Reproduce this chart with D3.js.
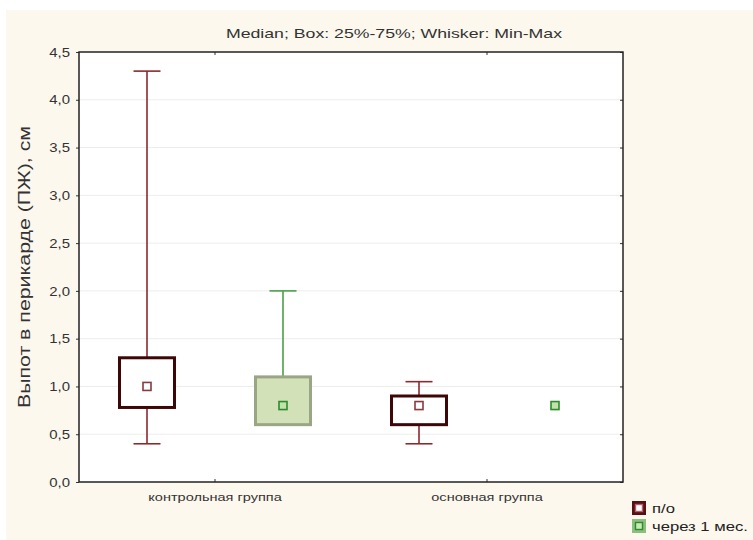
<!DOCTYPE html>
<html>
<head>
<meta charset="utf-8">
<script src="https://cdn.jsdelivr.net/npm/d3@7"></script>
<style>
  html, body { margin: 0; padding: 0; background: #ffffff; }
  svg { display: block; font-family: "Liberation Sans", Arial, sans-serif; }
</style>
</head>
<body>
<svg id="chart" width="753" height="540"></svg>
<script>
// Groups along the x axis
const categories = ["контрольная группа", "основная группа"];
// Series (time points)
const seriesNames = ["п/о", "через 1 мес."];
// Box statistics per series, in category order
const mins    = [[0.40, 0.40], [0.60, 0.80]];
const q1s     = [[0.78, 0.60], [0.60, 0.80]];
const medians = [[1.00, 0.80], [0.80, 0.80]];
const q3s     = [[1.30, 0.90], [1.10, 0.80]];
const maxs    = [[4.30, 1.05], [2.00, 0.80]];
const yTicks  = [0, 0.5, 1, 1.5, 2, 2.5, 3, 3.5, 4, 4.5];

const titleText = "Median; Box: 25%-75%; Whisker: Min-Max";
const yTitle = "Выпот в перикарде (ПЖ), см";

const styles = [
  { boxStroke: "#3e0707", boxFill: "#ffffff", whisker: "#8a2a2e",
    medStroke: "#8a3a3e", medFill: "#ffffff",
    legOuter: "#5a0f12", legInner: "#ffffff", legInnerStroke: "#b0606a" },
  { boxStroke: "#9aa585", boxFill: "#d3e1b8", whisker: "#4a9f4a",
    medStroke: "#2f8a2f", medFill: "#bfe3a8",
    legOuter: "#8cbf7e", legInner: "#c8eab4", legInnerStroke: "#2f8a2f" }
];

// Text in this chart uses a wide, horizontally stretched face
const STRETCH = 1.32;
function widen(sel, factor) {
  sel.each(function () {
    const len = this.getComputedTextLength();
    d3.select(this).attr("textLength", len * (factor || STRETCH)).attr("lengthAdjust", "spacingAndGlyphs");
  });
}

const svg = d3.select("#chart");
const W = 753, H = 540;
const margin = { left: 79, right: 130, top: 52, bottom: 58 };

// Panel background
svg.append("rect").attr("x", 6).attr("y", 10).attr("width", W - 6).attr("height", H - 10)
  .attr("fill", "#fdf8ee");

const x = d3.scaleBand().domain(categories).range([margin.left, W - margin.right]);
const y = d3.scaleLinear().domain([0, 4.5]).range([H - margin.bottom, margin.top]);
const offset = d3.scaleBand().domain(seriesNames).range([-x.bandwidth() / 2, x.bandwidth() / 2]);

// Plot area
svg.append("rect").attr("x", margin.left).attr("y", margin.top)
  .attr("width", W - margin.right - margin.left).attr("height", H - margin.bottom - margin.top)
  .attr("fill", "#ffffff");

// Gridlines
svg.append("g").selectAll("line").data(yTicks.filter(t => t > 0 && t < 4.5)).join("line")
  .attr("x1", margin.left).attr("x2", W - margin.right)
  .attr("y1", d => y(d)).attr("y2", d => y(d))
  .attr("stroke", "#ececec").attr("stroke-width", 1);

// Y axis (left) with outward ticks
const yAxis = svg.append("g").attr("transform", `translate(${margin.left},0)`)
  .call(d3.axisLeft(y).tickValues(yTicks).tickSize(3).tickPadding(6)
    .tickFormat(d => d3.format(".1f")(d).replace(".", ",")));
yAxis.select(".domain").remove();
yAxis.selectAll("line").attr("stroke", "#333");
yAxis.selectAll("text").attr("font-size", 13).attr("fill", "#333").call(widen, 1.15);

// Right axis with inward ticks
const yAxisR = svg.append("g").attr("transform", `translate(${W - margin.right},0)`)
  .call(d3.axisRight(y).tickValues(yTicks).tickSize(-3).tickFormat(""));
yAxisR.select(".domain").remove();
yAxisR.selectAll("line").attr("stroke", "#333");

// X axis (bottom) with inward ticks and labels
const xAxis = svg.append("g").attr("transform", `translate(0,${H - margin.bottom})`)
  .call(d3.axisBottom(x).tickSize(-3).tickPadding(11));
xAxis.select(".domain").remove();
xAxis.selectAll("line").attr("stroke", "#333");
xAxis.selectAll("text").attr("font-size", 11).attr("fill", "#333").call(widen);

// Top axis ticks
const xAxisT = svg.append("g").attr("transform", `translate(0,${margin.top})`)
  .call(d3.axisTop(x).tickSize(-3).tickFormat(""));
xAxisT.select(".domain").remove();
xAxisT.selectAll("line").attr("stroke", "#333");

// Frame
svg.append("rect").attr("x", margin.left).attr("y", margin.top)
  .attr("width", W - margin.right - margin.left).attr("height", H - margin.bottom - margin.top)
  .attr("fill", "none").attr("stroke", "#222").attr("stroke-width", 1.5);

// Boxes
const boxW = 55, capW = 27, medSize = 8;
seriesNames.forEach((s, si) => {
  const st = styles[si];
  categories.forEach((c, ci) => {
    const cx = x(c) + x.bandwidth() / 2 + offset(s) + offset.bandwidth() / 2;
    const g = svg.append("g");
    const lo = mins[si][ci], hi = maxs[si][ci], a = q1s[si][ci], b = q3s[si][ci], m = medians[si][ci];
    // whiskers
    if (hi > b) {
      g.append("line").attr("x1", cx).attr("x2", cx).attr("y1", y(b)).attr("y2", y(hi))
        .attr("stroke", st.whisker).attr("stroke-width", 1.6);
      g.append("line").attr("x1", cx - capW / 2).attr("x2", cx + capW / 2).attr("y1", y(hi)).attr("y2", y(hi))
        .attr("stroke", st.whisker).attr("stroke-width", 1.6);
    }
    if (lo < a) {
      g.append("line").attr("x1", cx).attr("x2", cx).attr("y1", y(a)).attr("y2", y(lo))
        .attr("stroke", st.whisker).attr("stroke-width", 1.6);
      g.append("line").attr("x1", cx - capW / 2).attr("x2", cx + capW / 2).attr("y1", y(lo)).attr("y2", y(lo))
        .attr("stroke", st.whisker).attr("stroke-width", 1.6);
    }
    // box
    if (b > a) {
      g.append("rect").attr("x", cx - boxW / 2).attr("y", y(b))
        .attr("width", boxW).attr("height", y(a) - y(b))
        .attr("fill", st.boxFill).attr("stroke", st.boxStroke).attr("stroke-width", 3);
    }
    // median marker
    g.append("rect").attr("x", cx - medSize / 2).attr("y", y(m) - medSize / 2)
      .attr("width", medSize).attr("height", medSize)
      .attr("fill", st.medFill).attr("stroke", st.medStroke).attr("stroke-width", 1.6);
  });
});

// Title
svg.append("text").attr("x", 394).attr("y", 38).attr("text-anchor", "middle")
  .attr("font-size", 13).attr("fill", "#333").text(titleText).call(widen, 1.36);

// Y axis title
svg.append("text").attr("transform", `translate(30,267) rotate(-90)`)
  .attr("text-anchor", "middle").attr("font-size", 16).attr("fill", "#333").text(yTitle)
  .attr("textLength", 282).attr("lengthAdjust", "spacingAndGlyphs");

// Legend
const leg = svg.append("g").attr("transform", "translate(632,501)");
seriesNames.forEach((s, i) => {
  const st = styles[i];
  const gy = i * 18;
  leg.append("rect").attr("x", 0).attr("y", gy).attr("width", 14).attr("height", 14).attr("fill", st.legOuter);
  leg.append("rect").attr("x", 3.5).attr("y", gy + 3.5).attr("width", 7).attr("height", 7)
    .attr("fill", st.legInner).attr("stroke", st.legInnerStroke).attr("stroke-width", 1.4);
  leg.append("text").attr("x", 20).attr("y", gy + 12).attr("font-size", 13).attr("fill", "#222").text(s)
    .call(widen, 1.28);
});
</script>
</body>
</html>
